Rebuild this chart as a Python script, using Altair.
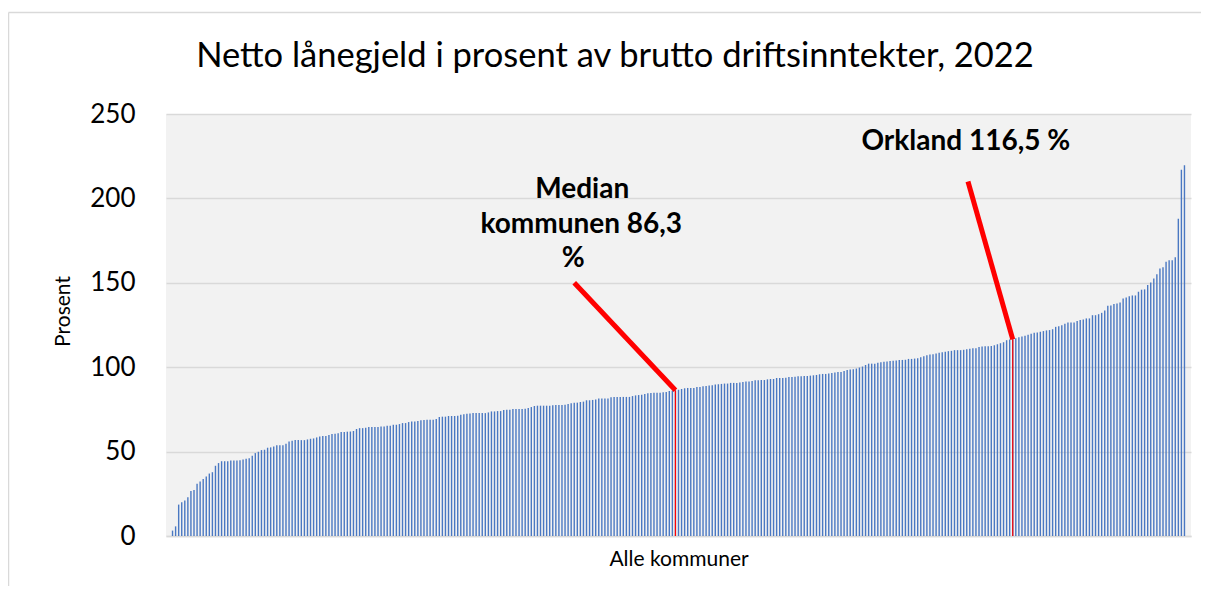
import altair as alt
import pandas as pd

# Netto lånegjeld i prosent av brutto driftsinntekter, sortert stigende
prosent = [
    3.2, 5.7, 18.6, 20.0, 21.0, 23.0, 26.7, 27.3, 30.9, 32.3,
    33.7, 35.2, 37.0, 37.8, 41.6, 43.2, 44.3, 44.3, 44.3, 44.7,
    44.7, 44.7, 44.9, 45.3, 45.7, 46.1, 47.5, 49.1, 49.9, 50.9,
    51.1, 52.3, 52.5, 53.0, 53.8, 53.8, 53.8, 54.6, 56.0, 56.4,
    56.8, 56.8, 56.8, 56.8, 57.2, 57.6, 57.8, 58.4, 59.0, 59.2,
    59.2, 59.8, 60.4, 60.6, 60.8, 61.6,
    61.6, 61.8, 61.9, 62.2, 63.4, 63.9, 63.9, 64.1, 64.5, 64.5,
    64.5, 64.5, 64.9, 64.9, 65.3, 65.3, 65.9, 65.9, 66.3, 66.9,
    66.9, 67.5, 67.9, 67.9, 68.1, 68.5, 68.7, 68.9, 68.9, 68.9,
    69.3, 70.5, 70.7, 70.7, 71.1, 71.1, 71.1, 71.3, 71.9, 72.1,
    72.4, 72.6, 72.8, 72.8, 72.8, 72.8, 72.8, 73.2, 73.8, 73.8,
    74.0, 74.0, 74.6, 74.8, 74.8, 75.2, 75.2, 75.2,
    75.2, 75.4, 75.8, 76.4, 77.0, 77.2, 77.2, 77.2, 77.2, 77.2,
    77.4, 77.6, 77.6, 77.6, 77.8, 78.2, 78.6, 79.0, 79.0, 79.4,
    79.6, 80.4, 80.4, 80.6, 80.8, 81.4, 81.4, 81.4, 81.4, 82.2,
    82.4, 82.4, 82.4, 82.4, 82.4, 82.4, 82.9, 83.3, 83.5, 83.7,
    84.1, 84.5, 84.7, 84.9, 84.9, 84.9, 85.1, 85.3, 85.9, 86.1,
    86.3, 86.7, 87.1, 87.5, 87.7, 87.7, 87.7, 88.3,
    88.3, 88.7, 88.9, 89.1, 89.3, 89.7, 89.9, 90.1, 90.3, 90.3,
    90.7, 90.7, 90.7, 90.9, 91.3, 91.5, 91.5, 91.8, 92.2, 92.2,
    92.4, 92.4, 92.8, 93.0, 93.0, 93.6, 93.6, 93.6, 93.8, 94.2,
    94.2, 94.4, 94.6, 94.6, 94.8, 94.8, 95.0, 95.2, 95.4, 95.8,
    96.0, 96.0, 96.2, 96.6, 96.8, 97.2, 97.2, 97.8, 98.4, 98.6,
    98.8, 99.2, 99.8, 100.4, 101.3, 102.1, 102.1, 102.1, 102.7,
    103.0, 103.2, 103.4, 103.6, 103.8, 104.0, 104.2, 104.3, 104.4, 104.9,
    104.9, 105.1, 105.3, 105.9, 106.5, 107.1, 107.5, 107.7, 108.1, 108.5,
    108.9, 109.1, 109.5, 109.7, 110.1, 110.1, 110.1, 110.3, 110.7, 110.9,
    111.3, 111.3, 112.0, 112.2, 112.4, 112.4, 112.6, 113.0, 113.6, 114.2,
    114.8, 116.0, 116.4, 116.5, 117.2, 117.8, 118.2, 118.6, 119.2, 119.8,
    120.4, 120.6, 121.0, 121.4, 121.8, 122.0, 122.5, 123.9,
    124.3, 124.9, 125.7, 126.5, 126.5, 126.5, 127.3, 127.9, 128.3, 128.9,
    128.9, 130.8, 130.8, 131.4, 132.2, 133.6, 136.4, 136.6, 137.4, 137.8,
    138.4, 140.7, 141.3, 142.1, 142.5, 142.5, 144.7, 145.9, 146.1, 148.7,
    150.2, 152.6, 155.0, 158.4, 159.2, 162.5, 163.3, 163.3, 165.1, 187.9,
    216.9, 219.7,
]

# Markerte kommuner (løpenummer i sortert rekkefølge)
merket_nr = [165, 275]  # Median-kommunen (86,3 %), Orkland (116,5 %)

# Pil-linjer for merkingene: start (x, y) -> slutt (x2, y2)
pil_x = [132.0, 260.4]
pil_y = [150.0, 210.0]
pil_x2 = [165, 275]
pil_y2 = [86.3, 116.5]

# Merketekster
tekst = ["Median", "kommunen 86,3", "%", "Orkland 116,5 %"]
tekst_x = [134.6, 134.3, 131.7, 259.7]
tekst_y = [205.0, 184.2, 164.1, 233.4]

y_ticks = [0, 50, 100, 150, 200, 250]

TITLE = "Netto lånegjeld i prosent av brutto driftsinntekter, 2022"
FONT = "Lato"
N = len(prosent)

df = pd.DataFrame({"nr": list(range(1, N + 1)), "prosent": prosent})
df_merket = df[df["nr"].isin(merket_nr)]
df_pil = pd.DataFrame({"x": pil_x, "y": pil_y, "x2": pil_x2, "y2": pil_y2})
df_tekst = pd.DataFrame({"tekst": tekst, "x": tekst_x, "y": tekst_y})

x_scale = alt.Scale(domain=[0.5, N + 0.5], nice=False, zero=False)
y_scale = alt.Scale(domain=[0, 250], nice=False)

x_axis = alt.Axis(
    title="Alle kommuner", labels=False, ticks=False, grid=False,
    domain=True, domainColor="#d9d9d9", domainWidth=1.5,
    titleFont=FONT, titleFontSize=21, titleFontWeight="normal",
    titleColor="#000000", titlePadding=12,
)
y_axis = alt.Axis(
    title="Prosent", values=y_ticks, ticks=False, domain=False,
    grid=True, gridColor="#d9d9d9", gridWidth=1.5,
    labelFont=FONT, labelFontSize=26, labelColor="#000000", labelPadding=31,
    titleFont=FONT, titleFontSize=21, titleFontWeight="normal",
    titleColor="#000000", titleX=-103, titleY=197, titleBaseline="middle",
    titleAngle=270,
)

bars = alt.Chart(df).mark_bar(color="#4a78c2", size=1.4).encode(
    x=alt.X("nr:Q", scale=x_scale, axis=x_axis),
    y=alt.Y("prosent:Q", scale=y_scale, axis=y_axis),
)

red_bars = alt.Chart(df_merket).mark_bar(color="#ff0000", size=1.2).encode(
    x=alt.X("nr:Q", scale=x_scale),
    y=alt.Y("prosent:Q", scale=y_scale),
)

piler = alt.Chart(df_pil).mark_rule(color="#ff0000", strokeWidth=5).encode(
    x=alt.X("x:Q", scale=x_scale),
    y=alt.Y("y:Q", scale=y_scale),
    x2="x2:Q",
    y2="y2:Q",
)

tekster = alt.Chart(df_tekst).mark_text(
    font=FONT, fontSize=28, fontWeight="bold", color="#000000",
    align="center", baseline="middle",
).encode(
    x=alt.X("x:Q", scale=x_scale),
    y=alt.Y("y:Q", scale=y_scale),
    text="tekst:N",
)

tittel = alt.Chart(pd.DataFrame({"t": [TITLE]})).mark_text(
    font=FONT, fontSize=34.5, fontWeight="normal", color="#000000",
    align="center", baseline="middle",
).encode(
    x=alt.value(449), y=alt.value(-57), text="t:N",
)

ramme_topp = alt.Chart(pd.DataFrame({"a": [0]})).mark_rule(
    color="#d9d9d9", strokeWidth=1.5,
).encode(
    x=alt.value(-157.5), x2=alt.value(1040), y=alt.value(-101.5),
)
ramme_venstre = alt.Chart(pd.DataFrame({"a": [0]})).mark_rule(
    color="#d9d9d9", strokeWidth=1.5,
).encode(
    x=alt.value(-157.5), y=alt.value(-101.5), y2=alt.value(480),
)

chart = alt.layer(
    ramme_topp, ramme_venstre, bars, red_bars, piler, tekster, tittel
).properties(
    width=1025,
    height=422,
    autosize=alt.AutoSizeParams(type="none"),
    padding={"left": 158, "top": 106, "right": 10, "bottom": 50},
    background="#ffffff",
).configure_view(
    fill="#f2f2f2", stroke=None,
)

chart.save("out.html", embed_options={"renderer": "svg", "actions": False})
